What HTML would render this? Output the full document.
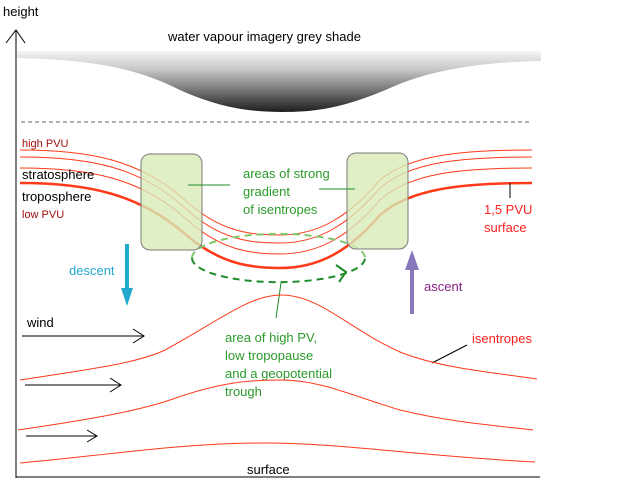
<!DOCTYPE html>
<html><head><style>
html,body{margin:0;padding:0;background:#fff;}
svg{display:block;font-family:"Liberation Sans",sans-serif;}
</style></head><body>
<svg width="643" height="482" viewBox="0 0 643 482">
<defs>
<linearGradient id="g" x1="0" y1="0" x2="0" y2="1">
<stop offset="0" stop-color="#f4f4f4"/><stop offset="0.3" stop-color="#c8c8c8"/><stop offset="1" stop-color="#1e1e1e"/>
</linearGradient>
</defs>
<!-- axes -->
<line x1="16" y1="30" x2="16" y2="478" stroke="#000" stroke-width="1"/>
<polyline points="6,43 16,30 25,43" fill="none" stroke="#000"/>
<line x1="16" y1="477" x2="540" y2="477" stroke="#000"/>
<text x="3" y="16" font-size="13">height</text>
<text x="168" y="41" font-size="13">water vapour imagery grey shade</text>
<!-- grey shade -->
<path d="M17,51 L541,51 L541,61 C480,62 430,70 390,88 C340,110 310,112 283,112 C250,112 220,108 180,90 C140,70 100,60 17,58 Z" fill="url(#g)"/>
<line x1="21" y1="122" x2="532" y2="122" stroke="#666" stroke-dasharray="4,3"/>
<!-- PV lines -->
<g fill="none" stroke="#ff3a1a">
<path d="M20,150 C90,150 140,160 185,200 C220,232 250,235 280,235 C320,235 350,215 380,180 C410,155 460,150 532,150" stroke-width="1"/>
<path d="M20,157 C90,157 140,167 185,208 C220,240 250,243 280,243 C320,243 350,223 380,188 C410,162 460,157 532,157" stroke-width="1"/>
<path d="M20,168 C90,168 140,178 185,218 C220,250 250,254 280,254 C320,254 350,235 380,200 C410,173 460,168 532,168" stroke-width="1"/>
<path d="M20,183 C90,183 140,195 185,234 C220,264 250,268 280,268 C320,268 350,250 380,215 C410,189 460,183 532,183" stroke-width="2.5"/>
</g>
<!-- ellipse back -->
<path d="M192,258 A86,24 0 0 1 365,258" fill="none" stroke="#7ec86a" stroke-width="2" stroke-dasharray="7,5"/>
<!-- boxes -->
<rect x="141" y="154" width="61" height="96" rx="9" fill="#d8ebb8" fill-opacity="0.8" stroke="#7a7a7a"/>
<rect x="347" y="153" width="61" height="96" rx="9" fill="#d8ebb8" fill-opacity="0.8" stroke="#7a7a7a"/>
<!-- ellipse front -->
<path d="M192,258 A86,24 0 0 0 365,258" fill="none" stroke="#1e8c2a" stroke-width="2" stroke-dasharray="7,5"/>
<polyline points="336,265 346,272 339,282" fill="none" stroke="#1e8c2a" stroke-width="2"/>
<!-- green leaders -->
<g stroke="#1e8c2a" stroke-width="1">
<line x1="188" y1="185" x2="230" y2="185"/>
<line x1="319" y1="189" x2="355" y2="189"/>
<line x1="281" y1="283" x2="276" y2="318"/>
</g>
<g fill="#2a9a2a" font-size="13">
<text x="243" y="178">areas of strong</text>
<text x="243" y="196">gradient</text>
<text x="243" y="214">of isentropes</text>
<text x="225" y="342">area of high PV,</text>
<text x="225" y="360">low tropopause</text>
<text x="225" y="378">and a geopotential</text>
<text x="225" y="396">trough</text>
</g>
<text x="22" y="147" font-size="11" fill="#a01010">high PVU</text>
<text x="22" y="179" font-size="13">stratosphere</text>
<text x="22" y="201" font-size="13">troposphere</text>
<text x="22" y="218" font-size="11" fill="#a01010">low PVU</text>
<text x="484" y="214" font-size="13" fill="#ff2020">1,5 PVU</text>
<text x="484" y="232" font-size="13" fill="#ff2020">surface</text>
<line x1="510" y1="183" x2="510" y2="198" stroke="#000"/>
<!-- descent/ascent -->
<line x1="127" y1="244" x2="127" y2="292" stroke="#22aacc" stroke-width="4"/>
<polygon points="121,288 133,288 127,306" fill="#22aacc"/>
<text x="69" y="275" font-size="13" fill="#22aacc">descent</text>
<line x1="412" y1="265" x2="412" y2="314" stroke="#8877bb" stroke-width="4"/>
<polygon points="405,270 419,270 412,250" fill="#8877bb"/>
<text x="424" y="291" font-size="13" fill="#882288">ascent</text>
<!-- wind -->
<text x="27" y="327" font-size="13">wind</text>
<g stroke="#000" fill="none">
<line x1="22" y1="336" x2="144" y2="336"/><polyline points="133,329 144,336 133,343"/>
<line x1="25" y1="385" x2="121" y2="385"/><polyline points="110,378 121,385 110,392"/>
<line x1="26" y1="436" x2="97" y2="436"/><polyline points="87,430 97,436 87,442"/>
<line x1="432" y1="363" x2="467" y2="345"/>
</g>
<text x="472" y="343" font-size="13" fill="#ff2020">isentropes</text>
<!-- isentropes -->
<g fill="none" stroke="#ff3a1a" stroke-width="1">
<path d="M20,380 C100,368 140,362 165,350 C220,320 250,295 281,295 C320,295 350,330 400,352 C440,368 490,372 537,379"/>
<path d="M18,430 C100,418 140,410 170,400 C220,382 250,380 280,380 C320,380 350,395 400,410 C450,422 490,425 533,430"/>
<path d="M20,463 C100,456 180,443 265,443 C340,443 420,456 535,462"/>
</g>
<text x="247" y="474" font-size="13">surface</text>
</svg>
</body></html>
